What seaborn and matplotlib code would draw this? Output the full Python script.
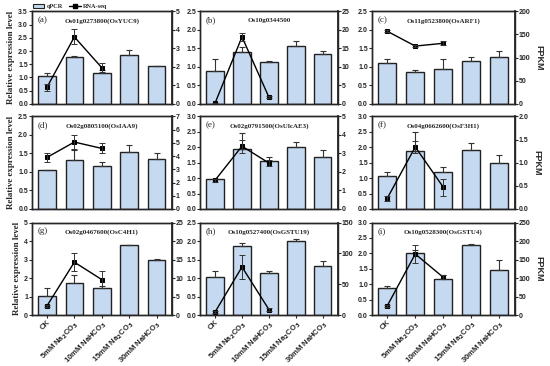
import numpy as np
import pandas as pd
import matplotlib.pyplot as plt
import seaborn as sns
from matplotlib.patches import Patch
from matplotlib.lines import Line2D

conditions = ['CK', '5mM Na$_2$CO$_3$', '10mM NaHCO$_3$', '15mM Na$_2$CO$_3$', '30mM NaHCO$_3$']
panel_labels = ['(a)', '(b)', '(c)', '(d)', '(e)', '(f)', '(g)', '(h)', '(i)']
gene_names = ['Os01g0273800(OsYUC9)', 'Os10g0344500', 'Os11g0523800(OsARF1)',
              'Os02g0805100(OsIAA9)', 'Os02g0791500(OsUlcAE3)', 'Os04g0662600(OsF3H1)',
              'Os02g0467600(OsC4H1)', 'Os10g0527400(OsGSTU19)', 'Os10g0528300(OsGSTU4)']

# qPCR bars (relative expression) and upper error
qpcr_a = [1.05, 1.78, 1.18, 1.85, 1.42]
qpcr_a_err = [0.12, 0.05, 0.10, 0.20, 0.03]
qpcr_b = [0.89, 1.40, 1.12, 1.56, 1.35]
qpcr_b_err = [0.32, 0.15, 0.04, 0.15, 0.09]
qpcr_c = [1.10, 0.87, 0.95, 1.17, 1.27]
qpcr_c_err = [0.10, 0.05, 0.26, 0.09, 0.16]
qpcr_d = [1.04, 1.33, 1.15, 1.54, 1.35]
qpcr_d_err = [0.01, 0.27, 0.13, 0.19, 0.17]
qpcr_e = [0.96, 1.93, 1.55, 2.02, 1.68]
qpcr_e_err = [0.02, 0.52, 0.13, 0.16, 0.23]
qpcr_f = [1.08, 1.87, 1.19, 1.90, 1.49]
qpcr_f_err = [0.12, 0.62, 0.17, 0.23, 0.27]
qpcr_g = [1.03, 1.73, 1.48, 3.79, 2.96]
qpcr_g_err = [0.43, 0.45, 0.10, 0.02, 0.07]
qpcr_h = [1.02, 1.86, 1.15, 2.00, 1.32]
qpcr_h_err = [0.17, 0.08, 0.05, 0.06, 0.14]
qpcr_i = [0.87, 2.00, 1.18, 2.27, 1.45]
qpcr_i_err = [0.06, 0.10, 0.13, 0.04, 0.34]

# RNA-seq FPKM (first three conditions) and symmetric error
rna_a = [0.90, 3.62, 1.96]
rna_a_err = [0.20, 0.40, 0.25]
rna_b = [0.2, 18.1, 1.8]
rna_b_err = [0.1, 1.0, 0.3]
rna_c = [157, 125, 131]
rna_c_err = [2, 3, 4]
rna_d = [3.9, 5.06, 4.58]
rna_d_err = [0.35, 0.5, 0.38]
rna_e = [1.55, 3.39, 2.48]
rna_e_err = [0.08, 0.35, 0.15]
rna_f = [0.23, 1.34, 0.47]
rna_f_err = [0.05, 0.12, 0.18]
rna_g = [2.5, 14.3, 9.6]
rna_g_err = [0.3, 2.4, 2.3]
rna_h = [5, 78, 9]
rna_h_err = [2, 20, 2]
rna_i = [25, 165, 102]
rna_i_err = [3, 25, 5]

left_limits = [3.5, 2.5, 2.5, 2.5, 3.0, 3.0, 5, 2.5, 3.0]
left_steps = [0.5, 0.5, 0.5, 0.5, 0.5, 0.5, 1, 0.5, 0.5]
right_limits = [5, 25, 200, 7, 5, 2.0, 25, 150, 250]
right_steps = [1, 5, 50, 1, 1, 0.5, 5, 50, 50]

qpcr_all = [qpcr_a, qpcr_b, qpcr_c, qpcr_d, qpcr_e, qpcr_f, qpcr_g, qpcr_h, qpcr_i]
qpcr_err_all = [qpcr_a_err, qpcr_b_err, qpcr_c_err, qpcr_d_err, qpcr_e_err,
                qpcr_f_err, qpcr_g_err, qpcr_h_err, qpcr_i_err]
rna_all = [rna_a, rna_b, rna_c, rna_d, rna_e, rna_f, rna_g, rna_h, rna_i]
rna_err_all = [rna_a_err, rna_b_err, rna_c_err, rna_d_err, rna_e_err,
               rna_f_err, rna_g_err, rna_h_err, rna_i_err]

sns.set_style('ticks')
plt.rcParams['font.family'] = ['Liberation Sans', 'DejaVu Sans']
plt.rcParams['font.weight'] = 'bold'
plt.rcParams['axes.linewidth'] = 1.0

bar_color = '#c5d9f0'
tick_fs = 5.0
fig = plt.figure(figsize=(5.5, 3.66), dpi=100)

col_left = [0.058, 0.364, 0.676]
col_width = [0.254, 0.250, 0.260]
row_bottom = [0.716, 0.429, 0.139]
row_height = 0.253


def fmt_tick(v, step):
    if float(step).is_integer():
        return str(int(round(v)))
    return f'{v:.1f}'


for i in range(9):
    r, c = divmod(i, 3)
    ax = fig.add_axes([col_left[c], row_bottom[r], col_width[c], row_height])
    df = pd.DataFrame({'cond': conditions, 'val': qpcr_all[i]})
    sns.barplot(data=df, x='cond', y='val', ax=ax, color=bar_color, width=0.64,
                edgecolor='#222222', linewidth=1.0, errorbar=None, saturation=1)
    xs = np.arange(5)
    ax.errorbar(xs, qpcr_all[i], yerr=[np.zeros(5), qpcr_err_all[i]], fmt='none',
                ecolor='#333333', elinewidth=0.8, capsize=2.2, capthick=0.8)
    ax.set_xlim(-0.55, 4.55)
    ax.set_ylim(0, left_limits[i])
    lt = np.arange(0, left_limits[i] + 1e-9, left_steps[i])
    ax.set_yticks(lt)
    ax.set_yticklabels([fmt_tick(v, left_steps[i]) for v in lt], fontsize=tick_fs, fontweight='bold')
    ax.tick_params(axis='both', length=2.0, width=0.8, pad=0.8)
    ax.set_xlabel('')
    ax.set_ylabel('')

    ax2 = ax.twinx()
    rdf = pd.DataFrame({'x': [0, 1, 2], 'fpkm': rna_all[i]})
    sns.lineplot(data=rdf, x='x', y='fpkm', ax=ax2, color='black', marker='s',
                 markersize=3.5, linewidth=1.0, markeredgecolor='black')
    ax2.errorbar([0, 1, 2], rna_all[i], yerr=rna_err_all[i], fmt='none',
                 ecolor='#333333', elinewidth=0.7, capsize=2.0, capthick=0.7)
    ax2.set_xlim(-0.55, 4.55)
    ax2.set_ylim(0, right_limits[i])
    rt = np.arange(0, right_limits[i] + 1e-9, right_steps[i])
    ax2.set_yticks(rt)
    ax2.set_yticklabels([fmt_tick(v, right_steps[i]) for v in rt], fontsize=tick_fs, fontweight='bold')
    ax2.tick_params(axis='y', length=2.0, width=0.8, pad=0.8)
    ax2.set_xlabel('')
    ax2.set_ylabel('')
    for sp in ax2.spines.values():
        sp.set_linewidth(1.0)
    ax2.spines['right'].set_linewidth(1.3)

    if r == 2:
        ax.set_xticks(xs)
        ax.set_xticklabels(conditions, rotation=45, ha='right', rotation_mode='anchor',
                           fontsize=5.5, fontweight='bold')
    else:
        ax.set_xticks(xs)
        ax.set_xticklabels([])
        ax.tick_params(axis='x', length=0)

    ax.text(0.04, 0.95, panel_labels[i], transform=ax.transAxes, ha='left', va='top',
            fontsize=6.5, family='Liberation Serif', fontweight='normal')
    ax.text(0.5, 0.93, gene_names[i], transform=ax.transAxes, ha='center', va='top',
            fontsize=5, family='Liberation Serif', fontweight='bold')

    if c == 0:
        ax.set_ylabel('Relative expression level', fontsize=6.5, family='Liberation Serif',
                      fontweight='bold', labelpad=2)
    if c == 2:
        ax2.set_ylabel('FPKM', fontsize=6.5, fontweight='bold', rotation=270, labelpad=9)

handles = [Patch(facecolor=bar_color, edgecolor='#222222', linewidth=0.8),
           Line2D([0], [0], color='black', marker='s', markersize=3, linewidth=1.0)]
fig.legend(handles, ['qPCR', 'RNA-seq'], loc='upper left', bbox_to_anchor=(0.05, 1.005),
           ncol=2, frameon=False, handlelength=1.8, handleheight=0.6,
           columnspacing=1.0, handletextpad=0.4, prop={'family': 'Liberation Serif', 'size': 4.5})

fig.savefig('out.png', dpi=100)
